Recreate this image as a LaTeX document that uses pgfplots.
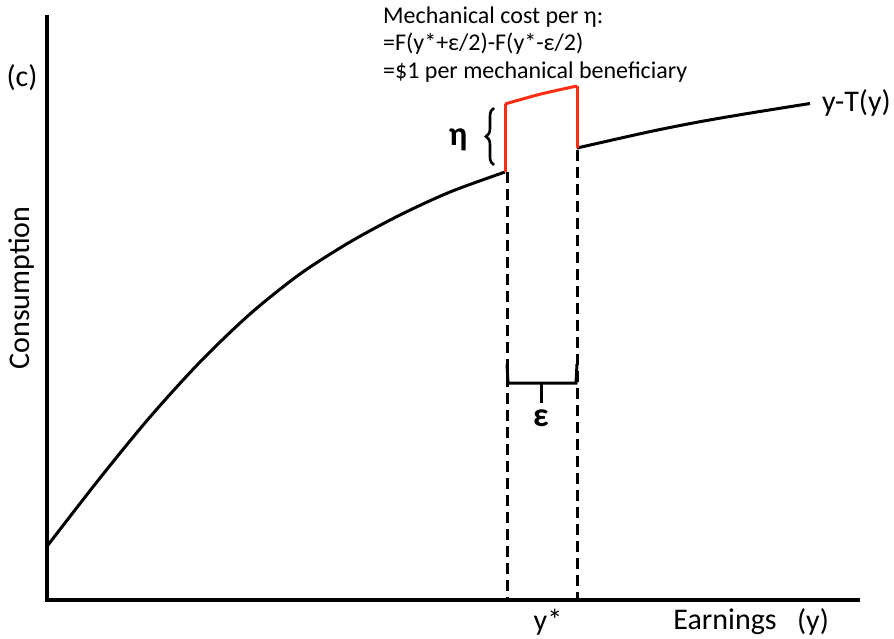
\documentclass[border=0pt]{standalone}
\usepackage{pgfplots}
\pgfplotsset{compat=1.18}
\usepackage{fontspec}
\setmainfont{Carlito}
\usetikzlibrary{decorations.pathreplacing}
\definecolor{redline}{RGB}{255,45,20}
\tikzset{lab/.style={font=\fontsize{24}{27}\selectfont, inner sep=0pt},
         big/.style={font=\fontsize{30}{32}\selectfont, inner sep=0pt}}
\begin{document}
\begin{tikzpicture}
\begin{axis}[
  scale only axis, width=894pt, height=638pt,
  xmin=0, xmax=894, ymin=0, ymax=638, y dir=reverse,
  hide axis, clip=false,
]
% axes
\addplot[black, line width=3.8pt] coordinates {(47,15) (47,600) (860,600)};
% budget curve
\addplot[black, line width=3pt, smooth] coordinates {
 (48,545) (100,478) (150,417) (200,362) (250,314) (300,274)
 (350,242) (400,215) (450,192) (505,172)};
\addplot[black, line width=3pt, smooth] coordinates {
 (577,148) (650,131.6) (700,121.7) (750,113.1) (810,103.5)};
% red shifted segment
\addplot[redline, line width=3pt] coordinates {(505,172) (505,104)};
\addplot[redline, line width=3pt, smooth] coordinates {(505,104) (541,94) (577,86)};
\addplot[redline, line width=3pt] coordinates {(577,86) (577,148)};
% dashed verticals
\addplot[black, line width=3pt, dash pattern=on 11pt off 6pt] coordinates {(507,172) (507,600)};
\addplot[black, line width=3pt, dash pattern=on 11pt off 6pt] coordinates {(577,150) (577,600)};
% epsilon bracket
\addplot[black, line width=3pt] coordinates {(507,364) (508,383) (576,383) (577,364)};
\addplot[black, line width=3pt] coordinates {(541,383) (541,403)};
% eta brace
\draw[black, line width=2.6pt, decorate, decoration={brace, amplitude=8pt}]
  (axis cs:494,165) -- (axis cs:494,108);
% texts
\node[lab, anchor=west] at (axis cs:383,17) {Mechanical cost per η:};
\node[lab, anchor=west] at (axis cs:383,44) {=F(y*+ε/2)-F(y*-ε/2)};
\node[lab, anchor=west] at (axis cs:383,72) {=\$1 per mechanical beneficiary};
\node[big] at (axis cs:22,78) {(c)};
\node[big, rotate=90] at (axis cs:22,288) {Consumption};
\node[big] at (axis cs:548,622) {y*};
\node[big] at (axis cs:725,622) {Earnings};
\node[big] at (axis cs:813,622) {(y)};
\node[big, anchor=west] at (axis cs:822,103) {y-T(y)};
\node[font=\fontsize{34}{36}\selectfont\bfseries, inner sep=0pt] at (axis cs:458,140) {η};
\node[font=\fontsize{34}{36}\selectfont\bfseries, inner sep=0pt] at (axis cs:541,418) {ε};
\end{axis}
\path (current axis.south west) rectangle (current axis.north east);
\end{tikzpicture}
\end{document}
